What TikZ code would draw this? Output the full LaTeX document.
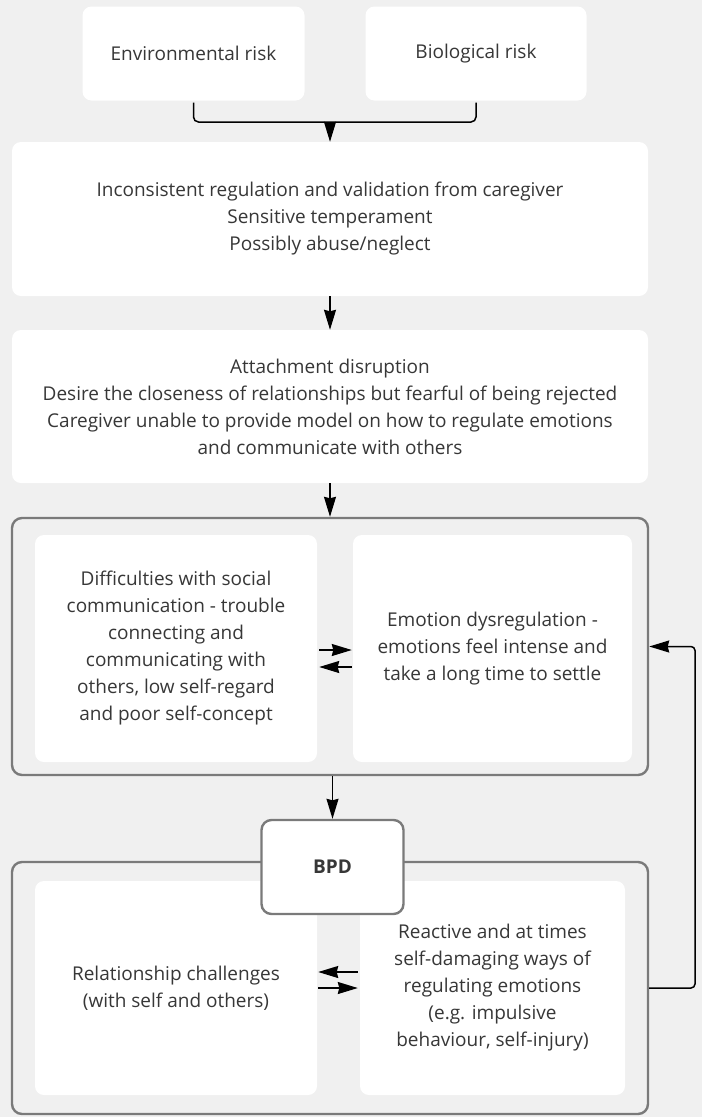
\documentclass[tikz,border=0pt]{standalone}
\usepackage{fontspec}
\setmainfont{Open Sans}
\usetikzlibrary{arrows.meta,positioning}
\definecolor{bgcol}{RGB}{240,240,240}
\definecolor{txtcol}{RGB}{55,55,55}
\definecolor{framecol}{RGB}{122,122,122}

\tikzset{
  card/.style={fill=white, draw=none, rounded corners=9pt, align=center, text=txtcol,
    font=\fontsize{19}{27}\selectfont, inner sep=0pt},
  group/.style={draw=framecol, line width=2.4pt, rounded corners=10pt, inner sep=0pt},
  line/.style={line width=1.5pt, draw=black},
  link/.style={line, -{Stealth[length=20pt,width=12pt,inset=1.5pt]}},
}

\begin{document}
\begin{tikzpicture}[x=1pt,y=-1pt]
\fill[bgcol] (0,0) rectangle (702,1117);

% risk factors
\node[card, minimum width=222pt, minimum height=94pt] (env) at (193.5,53.5) {Environmental risk};
\node[card, minimum width=221pt, minimum height=94pt] (bio) at (476,53.5) {Biological risk};
\node[card, minimum width=636pt, minimum height=154pt] (cause) at (330,219)
  {Inconsistent regulation and validation from caregiver\\Sensitive temperament\\Possibly abuse/neglect};
\node[card, minimum width=636pt, minimum height=153pt] (attach) at (330,406.5)
  {Attachment disruption\\Desire the closeness of relationships but fearful of being rejected\\Caregiver unable to provide model on how to regulate emotions\\and communicate with others};

% first group
\node[group, minimum width=636pt, minimum height=257pt] (grpA) at (330,646.5) {};
\node[card, minimum width=282pt, minimum height=227pt] (social) at (176,648.5)
  {Difficulties with social\\communication - trouble\\connecting and\\communicating with\\others, low self-regard\\and poor self-concept};
\node[card, minimum width=279pt, minimum height=227pt] (emo) at (492.5,648.5)
  {Emotion dysregulation -\\emotions feel intense and\\take a long time to settle};

% second group
\node[group, minimum width=636pt, minimum height=252pt] (grpB) at (330,988) {};
\node[card, minimum width=282pt, minimum height=214pt] (rel) at (176,988)
  {Relationship challenges\\(with self and others)};
\node[card, minimum width=265pt, minimum height=214pt] (react) at (492.5,988)
  {Reactive and at times\\self-damaging ways of\\regulating emotions\\(e.g. impulsive\\behaviour, self-injury)};
\node[card, draw=framecol, line width=2.4pt, rounded corners=10pt, minimum width=142pt, minimum height=94pt,
  font=\fontsize{19}{27}\selectfont\bfseries] (bpd) at (332.5,867) {BPD};

% connectors
\coordinate (merge) at (330,122);
\coordinate (fbtop) at (695,646.5);
\coordinate (fbbot) at (695,988);
\draw[line, rounded corners=5pt] ([yshift=-2pt]env.south) |- (merge) -| ([yshift=-2pt]bio.south);
\draw[link] (merge) -- (cause.north);
\draw[link] (cause.south) -- (attach.north);
\draw[link] (attach.south) -- (grpA.north);
\draw[link] (grpA.south -| bpd.north) -- (bpd.north);
\draw[link] ([xshift=2pt,yshift=-1.5pt]social.east) -- ([xshift=-1pt,yshift=-1.5pt]emo.west);
\draw[link] ([xshift=-1pt,yshift=-18.5pt]emo.west) -- ([xshift=2pt,yshift=-18.5pt]social.east);
\draw[link] ([xshift=-2pt,yshift=16pt]react.west) -- ([xshift=1pt,yshift=16pt]rel.east);
\draw[link] ([xshift=1pt]rel.east) -- ([xshift=-2pt]react.west);
\draw[link, rounded corners=4pt] (grpB.east) -- (fbbot) -- (fbtop) -- (grpA.east);

\end{tikzpicture}
\end{document}
